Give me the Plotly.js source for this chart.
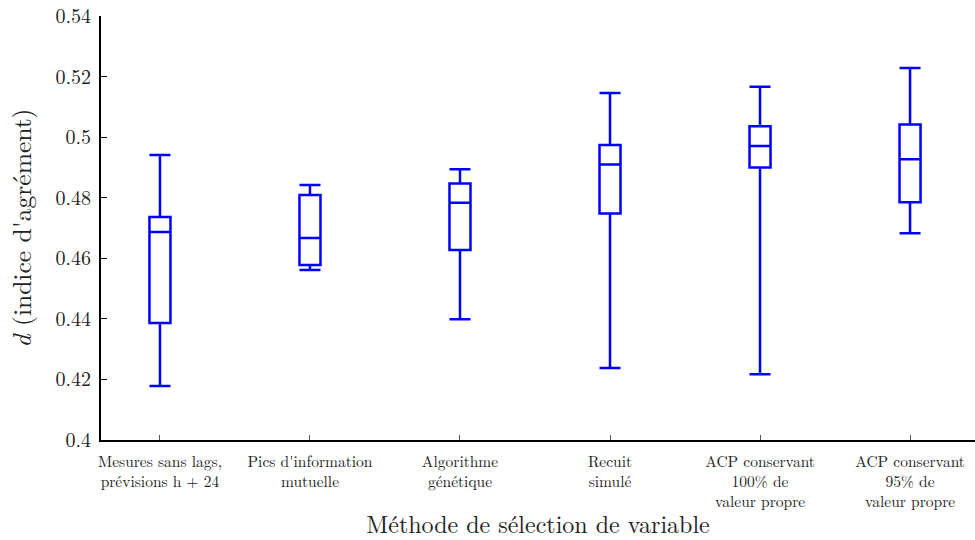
<!DOCTYPE html>
<html>
<head>
<meta charset="utf-8">
<script src="https://cdn.plot.ly/plotly-3.0.1.min.js"></script>
<style>html,body{margin:0;padding:0;background:#fff}</style>
</head>
<body>
<div id="chart" style="width:975px;height:540px"></div>
<script>
const categories = [
  "Mesures sans lags,<br>prévisions h + 24",
  "Pics d'information<br>mutuelle",
  "Algorithme<br>génétique",
  "Recuit<br>simulé",
  "ACP conservant<br>100% de<br>valeur propre",
  "ACP conservant<br>95% de<br>valeur propre"
];
const lowerWhisker = [0.4178, 0.4561, 0.4399, 0.4238, 0.4217, 0.4683];
const q1Values     = [0.4386, 0.4578, 0.4627, 0.4748, 0.4900, 0.4785];
const medianValues = [0.4687, 0.4667, 0.4783, 0.4910, 0.4971, 0.4927];
const q3Values     = [0.4736, 0.4809, 0.4847, 0.4974, 0.5036, 0.5042];
const upperWhisker = [0.4941, 0.4842, 0.4894, 0.5146, 0.5166, 0.5228];
const yTickVals = [0.4, 0.42, 0.44, 0.46, 0.48, 0.5, 0.52, 0.54];
const yTickText = ["0.4", "0.42", "0.44", "0.46", "0.48", "0.5", "0.52", "0.54"];

const xIdx = categories.map((c, i) => i);

const trace = {
  type: 'box',
  x: xIdx,
  q1: q1Values,
  median: medianValues,
  q3: q3Values,
  lowerfence: lowerWhisker,
  upperfence: upperWhisker,
  width: 0.14,
  whiskerwidth: 1,
  line: {color: '#0000ff', width: 2.5},
  fillcolor: '#ffffff',
  boxpoints: false,
  hoverinfo: 'skip',
  showlegend: false
};

const serif = '"Latin Modern Roman", "DejaVu Serif", "Liberation Serif", serif';

const layout = {
  width: 975,
  height: 540,
  margin: {l: 101, r: 0, t: 16, b: 100},
  paper_bgcolor: '#ffffff',
  plot_bgcolor: '#ffffff',
  font: {family: serif, color: '#222'},
  xaxis: {
    range: [-0.393, 5.433],
    tickvals: xIdx,
    ticktext: categories,
    ticks: 'inside',
    ticklen: 5,
    tickwidth: 1,
    tickcolor: '#555',
    ticklabelstandoff: 6,
    showline: true,
    linecolor: '#000',
    linewidth: 2,
    showgrid: false,
    zeroline: false,
    tickfont: {family: serif, size: 15.5, color: '#222'},
    title: {text: 'Méthode de sélection de variable', font: {family: serif, size: 24, color: '#222'}, standoff: 18}
  },
  yaxis: {
    range: [0.4, 0.54],
    tickvals: yTickVals,
    ticktext: yTickText,
    ticks: 'inside',
    ticklen: 6,
    tickwidth: 1,
    tickcolor: '#000',
    ticklabelstandoff: 4,
    showline: true,
    linecolor: '#000',
    linewidth: 2,
    showgrid: false,
    zeroline: false,
    tickfont: {family: serif, size: 20, color: '#222'},
    title: {text: "<i>d</i> (indice d'agrément)", font: {family: serif, size: 25.5, color: '#222'}, standoff: 17}
  }
};

Plotly.newPlot('chart', [trace], layout, {staticPlot: true, displayModeBar: false});
</script>
</body>
</html>
